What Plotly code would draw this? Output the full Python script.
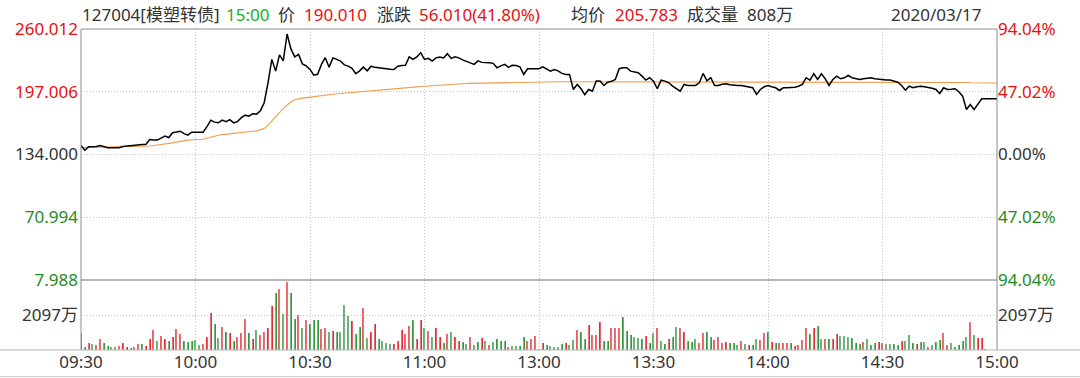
import plotly.graph_objects as go

# ---------------- data ----------------
minutes = list(range(241))  # 0 = 09:30 ... 120 = 11:30/13:00 ... 240 = 15:00
time_ticks = [0, 30, 60, 90, 120, 150, 180, 210, 240]
time_labels = ["09:30", "10:00", "10:30", "11:00", "13:00", "13:30", "14:00", "14:30", "15:00"]

prev_close = 134.000
price_ticks = [7.988, 70.994, 134.000, 197.006, 260.012]
price_labels = ["7.988", "70.994", "134.000", "197.006", "260.012"]
pct_labels = ["94.04%", "47.02%", "0.00%", "47.02%", "94.04%"]
vol_tick = 2097
vol_top = 4194

price = [
    143.0, 138.3, 141.7, 141.5, 142.0, 143.0, 141.5, 140.7, 140.7, 140.7,
    140.7, 142.0, 142.5, 143.0, 143.0, 143.5, 144.0, 144.0, 149.0, 148.5,
    148.5, 150.5, 152.4, 151.0, 155.8, 156.5, 157.4, 155.0, 153.4, 156.4,
    156.4, 156.4, 156.4, 162.0, 168.5, 166.5, 165.8, 168.5, 167.0, 169.0,
    165.8, 167.0, 171.0, 173.5, 172.5, 175.0, 174.5, 178.0, 186.0, 206.0,
    229.5, 217.7, 234.0, 228.0, 255.0, 240.0, 232.0, 234.5, 225.0, 223.0,
    219.4, 213.7, 214.5, 224.5, 231.2, 221.7, 231.0, 229.5, 227.8, 224.0,
    222.7, 220.5, 215.1, 218.0, 221.7, 218.0, 222.7, 221.5, 221.0, 220.0,
    219.4, 219.5, 219.4, 222.7, 223.4, 223.5, 232.0, 229.5, 232.0, 236.2,
    229.5, 230.5, 227.8, 231.0, 232.0, 231.0, 235.2, 230.5, 232.2, 231.0,
    229.0, 227.8, 226.0, 224.5, 228.0, 226.5, 226.5, 226.0, 225.5, 221.1,
    223.0, 224.5, 221.5, 223.5, 223.4, 222.0, 214.4, 220.0, 220.1, 220.1,
    220.1, 222.0, 219.4, 217.7, 219.4, 218.0, 215.4, 214.4, 214.4, 199.3,
    204.3, 200.0, 194.0, 199.3, 197.6, 207.7, 207.7, 203.3, 206.6, 207.5,
    209.4, 220.1, 221.1, 221.1, 217.7, 217.0, 216.1, 212.7, 208.7, 211.1,
    207.7, 200.0, 208.7, 207.7, 206.0, 202.6, 200.0, 197.6, 204.3, 203.3,
    203.3, 203.3, 206.0, 215.4, 208.0, 211.1, 203.3, 203.3, 204.5, 205.0,
    204.0, 203.3, 203.3, 203.3, 202.6, 202.0, 201.0, 194.3, 199.3, 202.0,
    203.3, 202.0, 201.0, 198.3, 201.0, 201.0, 201.0, 201.5, 202.6, 204.3,
    211.1, 208.7, 215.1, 209.4, 215.1, 210.0, 203.3, 209.4, 212.7, 210.0,
    211.0, 213.4, 211.1, 210.5, 209.4, 210.0, 210.5, 211.1, 210.0, 209.5,
    208.7, 208.7, 208.7, 207.5, 206.6, 203.3, 198.6, 202.6, 201.0, 202.0,
    202.6, 202.0, 201.6, 200.5, 199.3, 195.3, 201.0, 199.3, 199.5, 200.0,
    197.0, 192.6, 179.2, 184.2, 179.2, 185.0, 190.01, 190.01, 190.01, 190.01,
    190.01,
]

avg_price = [
    141.3, 141.0, 141.1, 141.2, 141.3, 141.4, 141.4, 141.4, 141.3, 141.3,
    141.3, 141.4, 141.5, 141.6, 141.7, 141.8, 142.0, 142.2, 142.6, 143.0,
    143.4, 143.8, 144.4, 145.0, 145.7, 146.4, 147.2, 147.9, 148.4, 148.8,
    149.0, 149.1, 149.3, 150.3, 151.5, 152.5, 153.3, 154.0, 154.5, 155.0,
    155.4, 155.8, 156.2, 156.6, 157.0, 157.3, 157.7, 158.5, 160.0, 163.5,
    168.0, 172.5, 176.0, 180.0, 184.0, 187.0, 189.0, 190.0, 190.6, 191.1,
    191.6, 192.2, 192.8, 193.5, 194.0, 194.4, 194.8, 195.0, 195.2, 195.5,
    195.9, 196.3, 196.8, 197.3, 197.7, 198.0, 198.3, 198.6, 198.9, 199.2,
    199.5, 199.8, 200.1, 200.4, 200.7, 201.0, 201.3, 201.6, 201.9, 202.3,
    202.6, 202.9, 203.2, 203.5, 203.8, 204.1, 204.3, 204.5, 204.7, 204.9,
    205.1, 205.3, 205.4, 205.5, 205.6, 205.7, 205.8, 205.9, 206.0, 206.1,
    206.2, 206.3, 206.4, 206.5, 206.6, 206.7, 206.8, 206.9, 207.0, 207.0,
    207.0, 207.0, 207.0, 207.0, 207.0, 207.0, 207.0, 207.0, 207.0, 206.9,
    206.9, 206.9, 206.9, 206.9, 206.9, 206.9, 206.9, 206.9, 206.9, 206.9,
    206.9, 207.0, 207.0, 207.0, 207.0, 207.0, 207.0, 207.0, 207.0, 207.0,
    207.0, 207.0, 207.0, 207.0, 207.0, 207.0, 206.9, 206.9, 206.9, 206.9,
    206.9, 206.9, 206.9, 206.9, 206.9, 206.9, 206.9, 206.9, 206.9, 206.9,
    206.9, 206.9, 206.9, 206.9, 206.9, 206.9, 206.8, 206.8, 206.8, 206.8,
    206.8, 206.8, 206.8, 206.8, 206.8, 206.8, 206.8, 206.8, 206.8, 206.8,
    206.8, 206.8, 206.8, 206.8, 206.8, 206.8, 206.8, 206.8, 206.8, 206.8,
    206.8, 206.8, 206.8, 206.8, 206.8, 206.8, 206.8, 206.8, 206.8, 206.8,
    206.8, 206.8, 206.8, 206.8, 206.8, 206.8, 206.8, 206.7, 206.7, 206.7,
    206.7, 206.7, 206.7, 206.7, 206.7, 206.7, 206.7, 206.6, 206.6, 206.6,
    206.6, 206.5, 206.3, 206.1, 205.9, 205.8, 205.8, 205.783, 205.783, 205.783,
    205.783,
]

volume = [  # 万
    1030, 200, 435, 356, 300, 650, 435, 240, 200, 160,
    240, 435, 160, 140, 160, 356, 356, 240, 630, 1190,
    555, 830, 650, 535, 790, 1230, 930, 535, 475, 555,
    595, 300, 356, 790, 2240, 1545, 710, 1390, 1090, 990,
    555, 790, 1030, 1840, 1030, 650, 1190, 890, 1090, 1345,
    2610, 3405, 3660, 2180, 4100, 3405, 1880, 2080, 1345, 1780,
    1580, 1820, 1780, 1230, 1290, 1090, 1110, 1050, 1090, 2670,
    2020, 1740, 950, 1390, 2535, 710, 1090, 1580, 675, 515,
    435, 356, 356, 535, 1190, 950, 1425, 1820, 650, 1780,
    1325, 1130, 790, 1345, 790, 435, 950, 1090, 790, 535,
    495, 356, 790, 300, 495, 730, 555, 300, 495, 630,
    555, 535, 160, 260, 240, 240, 790, 555, 675, 830,
    60, 435, 277, 240, 160, 200, 356, 395, 300, 595,
    1190, 1090, 630, 1485, 870, 890, 1680, 535, 535, 1345,
    1290, 1325, 1980, 1130, 890, 750, 695, 650, 850, 435,
    990, 1290, 555, 335, 630, 790, 1390, 1345, 1090, 555,
    495, 630, 435, 990, 1090, 750, 595, 790, 395, 475,
    395, 435, 300, 515, 356, 277, 300, 630, 595, 1030,
    1090, 455, 395, 435, 435, 395, 435, 240, 277, 595,
    1290, 930, 1290, 1425, 630, 630, 675, 650, 930, 830,
    830, 750, 730, 435, 356, 475, 630, 300, 395, 495,
    395, 356, 356, 356, 300, 535, 535, 890, 435, 335,
    495, 495, 160, 277, 495, 595, 990, 300, 395, 160,
    300, 535, 790, 1680, 890, 730, 730, 40, 0, 0,
    0,
]

# r = up minute, g = down minute
vol_direction = (
    "rgrgrrgggg" "rrrgrrgrrr" "grrgrrrggg" "ggrrrggrgr" "grrrgrgrrr"
    "rgrgrggrgr" "gggrrgrggg" "grggrgrrgg" "ggrr"
    "rrrgrrgrgr" "rgrgrrggrg" "grgrggggrg" "gggrrrr"
    "rgggggrggr" "ggrrrrggrr" "rggggggrgg" "rggrggrrgg" "grrggrr"
    "rrgggrgrgg" "rrgrgrrrgr" "rrrgrggrgr" "rggggggrgg" "grrggggrgg"
    "grggrgggrr" "gggggrgrrr" "rrr"
)

# ---------------- style ----------------
RED = "#e81010"
GREEN = "#1e8c1e"
GRAY_TXT = "#333333"
FONT = "Noto Sans, Noto Sans CJK SC, sans-serif"
FS = 17

W, H = 1080, 378
L, R, T, B = 81, 83, 29, 28
PW = W - L - R
PH = H - T - B
VOL_FRAC = 70 / PH


def px_x(px):
    return (px - L) / PW


def px_y(py):
    return (H - B - py) / PH


def col(txt, c):
    return f"<span style='color:{c}'>{txt}</span>"


bar_colors = [RED if d == "r" else GREEN for d in vol_direction]

fig = go.Figure()
fig.add_trace(go.Bar(x=minutes, y=volume, marker=dict(color=bar_colors, line=dict(width=0)),
                     width=0.3, xaxis="x", yaxis="y3", hoverinfo="skip"))
fig.add_trace(go.Bar(x=minutes, y=volume, marker=dict(color="rgba(0,0,0,0)"), width=0.3,
                     xaxis="x", yaxis="y4", hoverinfo="skip", showlegend=False))
fig.add_trace(go.Scatter(x=minutes, y=avg_price, mode="lines",
                         line=dict(color="#f39a4c", width=1.1), xaxis="x", yaxis="y"))
fig.add_trace(go.Scatter(x=minutes, y=price, mode="lines",
                         line=dict(color="#000000", width=1.5), xaxis="x", yaxis="y"))
fig.add_trace(go.Scatter(x=minutes, y=price, mode="lines",
                         line=dict(color="rgba(0,0,0,0)", width=0), xaxis="x", yaxis="y2",
                         hoverinfo="skip"))

price_range = [price_ticks[0], price_ticks[-1]]
left_text = [col(price_labels[0], GREEN), col(price_labels[1], GREEN), col(price_labels[2], GRAY_TXT),
             col(price_labels[3], RED), col(price_labels[4], RED)]
right_text = [col(pct_labels[0], GREEN), col(pct_labels[1], GREEN), col(pct_labels[2], GRAY_TXT),
              col(pct_labels[3], RED), col(pct_labels[4], RED)]

grid = dict(showgrid=True, gridcolor="#c4c4c4", griddash="1px,2px", gridwidth=1)

fig.update_layout(
    width=W, height=H,
    margin=dict(l=L, r=R, t=T, b=B, pad=0),
    paper_bgcolor="white", plot_bgcolor="white",
    showlegend=False, bargap=0,
    font=dict(family=FONT, size=FS, color=GRAY_TXT),
    xaxis=dict(range=[0, 240], tickvals=time_ticks, ticktext=time_labels, anchor="y3",
               ticks="", showline=False, zeroline=False, automargin=False,
               tickfont=dict(size=FS, color=GRAY_TXT), **grid),
    yaxis=dict(domain=[VOL_FRAC, 1], range=price_range, tickvals=price_ticks, ticktext=left_text,
               ticks="", showline=False, zeroline=False, anchor="x", automargin=False,
               ticklabelstandoff=2, **grid),
    yaxis2=dict(overlaying="y", side="right", range=price_range, tickvals=price_ticks,
                ticktext=right_text, ticks="", showline=False, zeroline=False, showgrid=False,
                anchor="x", automargin=False),
    yaxis3=dict(domain=[0, VOL_FRAC], range=[0, vol_top], tickvals=[vol_tick], ticktext=["2097万"],
                ticks="", showline=False, zeroline=False, anchor="x", automargin=False,
                ticklabelstandoff=2, **grid),
    yaxis4=dict(overlaying="y3", side="right", range=[0, vol_top], tickvals=[vol_tick],
                ticktext=["2097万"], ticks="", showline=False, zeroline=False, showgrid=False,
                anchor="x", automargin=False),
)

# frame lines
line_gray = "#8c8c8c"
shapes = [
    dict(type="line", xref="paper", yref="paper", x0=0, x1=0, y0=0, y1=1, line=dict(color=line_gray, width=1)),
    dict(type="line", xref="paper", yref="paper", x0=1, x1=1, y0=0, y1=1, line=dict(color=line_gray, width=1)),
    dict(type="line", xref="paper", yref="paper", x0=0, x1=1, y0=1, y1=1, line=dict(color=line_gray, width=1)),
    dict(type="line", xref="paper", yref="paper", x0=0, x1=1, y0=VOL_FRAC, y1=VOL_FRAC,
         line=dict(color="#707070", width=1)),
    dict(type="line", xref="paper", yref="paper", x0=px_x(0), x1=px_x(W), y0=0, y1=0,
         line=dict(color="#b4b4b4", width=1)),
    dict(type="line", xref="paper", yref="paper", x0=px_x(0), x1=px_x(W), y0=px_y(376.5), y1=px_y(376.5),
         line=dict(color="#d0d0d0", width=1)),
]
fig.update_layout(shapes=shapes)

# header
header = [
    (80, "127004[模塑转债]", GRAY_TXT),
    (224, "15:00", "#20b020"),
    (276, "价", GRAY_TXT),
    (302, "190.010", RED),
    (375, "涨跌", GRAY_TXT),
    (417, "56.010(41.80%)", RED),
    (569, "均价", GRAY_TXT),
    (613, "205.783", RED),
    (685, "成交量", GRAY_TXT),
    (745, "808万", GRAY_TXT),
]
annotations = []
for xpx, txt, c in header:
    annotations.append(dict(xref="paper", yref="paper", x=px_x(xpx), y=px_y(14), text=txt,
                            showarrow=False, xanchor="left", yanchor="middle",
                            font=dict(family=FONT, size=FS, color=c)))
annotations.append(dict(xref="paper", yref="paper", x=px_x(983), y=px_y(14), text="2020/03/17",
                        showarrow=False, xanchor="right", yanchor="middle",
                        font=dict(family=FONT, size=FS, color=GRAY_TXT)))
fig.update_layout(annotations=annotations)

fig.write_html("out.html", config={"displayModeBar": False},
               post_script="document.body.style.margin='0';")
